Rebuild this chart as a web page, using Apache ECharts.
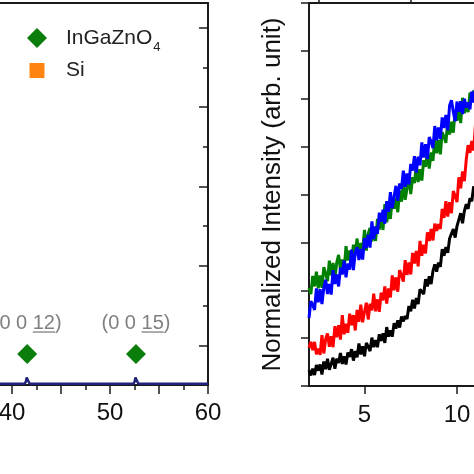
<!DOCTYPE html>
<html><head><meta charset="utf-8">
<script src="https://cdn.jsdelivr.net/npm/echarts@6/dist/echarts.min.js"></script>
<style>html,body{margin:0;padding:0;background:#fff}#c{width:474px;height:474px}</style>
</head><body><div id="c"></div>
<script>
const FONT = 'Arial, "Liberation Sans", sans-serif';

// ---- Left panel: XRD pattern (2theta, deg) ----
const xrdX = [35, 41.3, 41.42, 41.5, 41.55, 41.6, 41.68, 41.8, 52.4, 52.52, 52.6, 52.65, 52.7, 52.78, 52.9, 60];
const xrdY = [0.03, 0.03, 0.09, 0.19, 0.24, 0.19, 0.09, 0.03, 0.03, 0.09, 0.19, 0.24, 0.19, 0.09, 0.03, 0.03];
const peakX = [41.55, 52.65];
const peakY = [0.78, 0.78];
const peakHKL = ['12', '15'];
const xrdXTicks = [40, 50, 60];
const xrdYMajorTicks = [1, 3, 5, 7, 9];
const xrdYMinorTicks = [2, 4, 6, 8];

// ---- Right panel: normalized intensity, sampled every 0.1 from 2.0 ----
const rxStart = 2.0;
const rxStep = 0.1;
const greenY = [2.05,1.92,2.30,2.08,2.39,2.04,2.31,2.05,2.48,2.35,2.19,2.62,2.31,2.57,2.25,2.58,2.74,2.43,2.64,2.41,2.92,2.62,2.83,2.56,2.95,2.79,3.08,2.71,2.99,2.85,3.26,2.83,3.18,3.30,3.02,3.25,3.03,3.49,3.27,3.54,3.26,3.80,3.42,3.66,3.49,3.91,3.70,3.93,3.63,4.08,3.85,4.24,3.89,4.13,4.34,4.01,4.36,4.24,4.61,4.26,4.53,4.29,4.72,4.58,4.89,4.54,4.88,4.70,5.18,4.86,5.14,4.84,5.30,5.20,5.08,5.54,5.25,5.52,5.29,5.75,5.54,5.81,5.49,6.02,5.70,5.91,5.72,6.13,5.94,6.17,5.92,6.25,6.07];
const blueY = [1.42,1.77,1.70,1.59,2.04,1.75,2.02,1.71,2.05,2.22,1.92,2.13,1.91,2.42,2.13,2.33,2.08,2.47,2.33,2.62,2.27,2.56,2.43,2.85,2.42,2.78,2.90,2.63,2.86,2.64,3.09,2.88,3.16,2.89,3.44,3.07,3.33,3.18,3.62,3.43,3.68,3.39,3.86,3.64,4.05,3.71,3.96,4.18,3.87,4.23,4.12,4.50,4.16,4.44,4.21,4.64,4.50,4.80,4.46,4.79,4.61,5.09,4.77,5.05,4.74,5.20,5.10,4.97,5.43,5.13,5.40,5.16,5.61,5.39,5.66,5.34,5.86,5.97,5.73,5.53,5.94,5.73,5.95,5.68,6.00,5.82,5.92,5.78,6.15,5.92,6.22,5.86,6.11];
const redY = [0.80,0.92,0.75,0.92,0.66,0.78,0.65,1.06,0.68,0.98,1.10,0.82,1.04,0.81,1.25,1.02,1.27,0.97,1.48,1.08,1.30,1.11,1.51,1.27,1.48,1.16,1.59,1.34,1.70,1.33,1.55,1.74,1.39,1.72,1.58,1.93,1.56,1.81,1.55,1.95,1.79,2.08,1.72,2.04,1.85,2.31,2.00,2.27,1.97,2.42,2.32,2.18,2.63,2.32,2.58,2.33,2.78,2.56,2.82,2.50,3.03,2.72,2.95,2.77,3.21,3.03,3.28,3.04,3.39,3.24,3.38,3.28,3.70,3.51,3.86,3.54,3.84,3.61,4.07,3.97,3.84,4.36,4.13,4.48,4.28,4.73,5.03,4.87,5.12,4.92,5.47,5.16,5.36];
const blackY = [0.33,0.22,0.36,0.23,0.44,0.32,0.45,0.24,0.51,0.35,0.57,0.34,0.46,0.59,0.36,0.57,0.48,0.69,0.46,0.62,0.45,0.70,0.61,0.77,0.53,0.73,0.60,0.89,0.66,0.83,0.62,0.90,0.82,0.73,1.01,0.81,0.96,0.81,1.08,0.94,1.10,0.90,1.23,1.03,1.16,1.03,1.31,1.20,1.37,1.22,1.45,1.35,1.46,1.40,1.67,1.56,1.80,1.62,1.84,1.71,2.02,1.97,1.92,2.23,2.08,2.29,2.13,2.40,2.54,2.39,2.58,2.49,2.86,2.72,2.90,2.78,3.08,3.05,3.28,3.10,3.34,3.31,3.61,3.40,3.66,3.80,3.70,3.92,3.86,4.17,4.04,4.23,4.06];
const rightXLabels = [5, 10];
const rightXMinor = [2.5, 7.5];

function pairs(ys) { return ys.map((y, i) => [+(rxStart + i * rxStep).toFixed(2), y]); }

const chart = echarts.init(document.getElementById('c'), null, {renderer: 'canvas'});
const axisLineStyle = {color: '#1a1a1a', width: 2};

const option = {
  animation: false,
  backgroundColor: '#fff',
  grid: [
    {left: -37, right: 266, top: 3, bottom: 89, show: true, borderColor: '#1a1a1a', borderWidth: 2, backgroundColor: 'transparent', outerBoundsMode: 'none', containLabel: false},
    {left: 309, right: -20, top: 3, bottom: 88, show: true, borderColor: '#1a1a1a', borderWidth: 2, backgroundColor: 'transparent', outerBoundsMode: 'none', containLabel: false}
  ],
  legend: [
    {data: [{name: 'InGaZnO4', icon: 'diamond'}], left: 27, top: 22, padding: 0, itemWidth: 20, itemHeight: 20, selectedMode: false,
     itemStyle: {opacity: 1},
     formatter: () => '{sp| }{m|InGaZnO}{sub|4}',
     textStyle: {fontSize: 21, fontFamily: FONT, color: '#222',
       rich: {sp: {width: 14, fontSize: 21, lineHeight: 32},
              m: {fontSize: 21, fontFamily: FONT, color: '#222', lineHeight: 32, verticalAlign: 'middle'},
              sub: {fontSize: 13, fontFamily: FONT, color: '#222', lineHeight: 13, verticalAlign: 'top', padding: [19, 0, 0, 1]}}}},
    {data: [{name: 'Si', icon: 'rect'}], left: 29.5, top: 60, padding: 0, itemWidth: 15, itemHeight: 15, selectedMode: false,
     itemStyle: {opacity: 1},
     formatter: () => '{sp| }{m|Si}',
     textStyle: {fontSize: 21, fontFamily: FONT, color: '#222',
       rich: {sp: {width: 16.5, fontSize: 21}, m: {fontSize: 21, fontFamily: FONT, color: '#222'}}}}
  ],
  xAxis: [
    {gridIndex: 0, type: 'value', min: 35, max: 60, interval: 5,
     axisLine: {show: true, lineStyle: axisLineStyle},
     axisTick: {show: true, inside: false, length: 9, lineStyle: {color: '#1a1a1a', width: 1.5}},
     minorTick: {show: true, splitNumber: 2, length: 5, lineStyle: {color: '#1a1a1a', width: 1.5}},
     axisLabel: {show: true, fontSize: 24, fontFamily: FONT, color: '#111', margin: 16, customValues: xrdXTicks},
     splitLine: {show: false}, minorSplitLine: {show: false}},
    {gridIndex: 1, type: 'value', min: 2, max: 12,
     axisLine: {show: true, lineStyle: axisLineStyle},
     axisTick: {show: true, inside: false, length: 8, customValues: rightXLabels, lineStyle: {color: '#1a1a1a', width: 1.5}},
     axisLabel: {show: true, fontSize: 24, fontFamily: FONT, color: '#111', margin: 17, customValues: rightXLabels},
     splitLine: {show: false}},
    {gridIndex: 1, type: 'value', min: 2, max: 12,
     axisLine: {show: false},
     axisTick: {show: true, inside: false, length: 5, customValues: rightXMinor, lineStyle: {color: '#1a1a1a', width: 1.5}},
     axisLabel: {show: false}, splitLine: {show: false}}
  ],
  yAxis: [
    {gridIndex: 0, type: 'value', position: 'right', min: 0, max: 9.62,
     axisLine: {show: true, lineStyle: axisLineStyle},
     axisTick: {show: true, inside: true, length: 9, customValues: xrdYMajorTicks, lineStyle: {color: '#1a1a1a', width: 1.5}},
     axisLabel: {show: false}, splitLine: {show: false}},
    {gridIndex: 0, type: 'value', position: 'right', min: 0, max: 9.62,
     axisLine: {show: false},
     axisTick: {show: true, inside: true, length: 5, customValues: xrdYMinorTicks, lineStyle: {color: '#1a1a1a', width: 1.5}},
     axisLabel: {show: false}, splitLine: {show: false}},
    {gridIndex: 1, type: 'value', position: 'left', min: 0, max: 8, interval: 1,
     axisLine: {show: true, lineStyle: axisLineStyle},
     axisTick: {show: true, inside: false, length: 8, lineStyle: {color: '#1a1a1a', width: 1.5}},
     axisLabel: {show: false}, splitLine: {show: false},
     name: 'Normalized Intensity (arb. unit)', nameLocation: 'middle', nameRotate: 90, nameGap: 23,
     nameTextStyle: {fontSize: 26, fontFamily: FONT, color: '#111'}}
  ],
  series: [
    {name: 'XRD', type: 'line', xAxisIndex: 0, yAxisIndex: 0, data: xrdX.map((x, i) => [x, xrdY[i]]),
     showSymbol: false, lineStyle: {color: '#22227a', width: 2.5}, z: 3},
    {name: 'InGaZnO4', type: 'scatter', xAxisIndex: 0, yAxisIndex: 0, data: peakX.map((x, i) => [x, peakY[i]]),
     symbol: 'diamond', symbolSize: 20, itemStyle: {color: '#0b7d0b', opacity: 1}, z: 4},
    {name: 'Si', type: 'scatter', xAxisIndex: 0, yAxisIndex: 0, data: [], symbol: 'rect', symbolSize: 15, itemStyle: {color: '#ff8510', opacity: 1}},
    {name: 'hkl', type: 'custom', xAxisIndex: 0, yAxisIndex: 0, data: peakX.map((x, i) => [x, peakY[i]]), z: 5,
     renderItem: function (params, api) {
       const p = api.coord([api.value(0), api.value(1)]);
       const hkl = peakHKL[params.dataIndex];
       const fs = 20;
       const text = '(0 0 ' + hkl + ')';
       const w = (0.333 * 2 + 0.556 * (2 + hkl.length) + 0.278 * 2) * fs;
       const x0 = p[0] - w / 2;
       const ux0 = x0 + (0.333 + 0.556 * 2 + 0.278 * 2) * fs;
       const ux1 = ux0 + 0.556 * hkl.length * fs;
       const cy = p[1] - 31;
       return {type: 'group', children: [
         {type: 'text', x: p[0], y: cy, style: {text: text, align: 'center', verticalAlign: 'middle', fontSize: fs, fontFamily: FONT, fill: '#808080'}},
         {type: 'line', shape: {x1: ux0, y1: cy + 9, x2: ux1, y2: cy + 9}, style: {stroke: '#808080', lineWidth: 1.3}}
       ]};
     }},
    {name: 'black', type: 'line', xAxisIndex: 1, yAxisIndex: 2, data: pairs(blackY), showSymbol: false, lineStyle: {color: '#000000', width: 3}},
    {name: 'red', type: 'line', xAxisIndex: 1, yAxisIndex: 2, data: pairs(redY), showSymbol: false, lineStyle: {color: '#ff0000', width: 3}},
    {name: 'green', type: 'line', xAxisIndex: 1, yAxisIndex: 2, data: pairs(greenY), showSymbol: false, lineStyle: {color: '#008000', width: 3}},
    {name: 'blue', type: 'line', xAxisIndex: 1, yAxisIndex: 2, data: pairs(blueY), showSymbol: false, lineStyle: {color: '#0000ff', width: 3}}
  ]
};
chart.setOption(option);
</script></body></html>
